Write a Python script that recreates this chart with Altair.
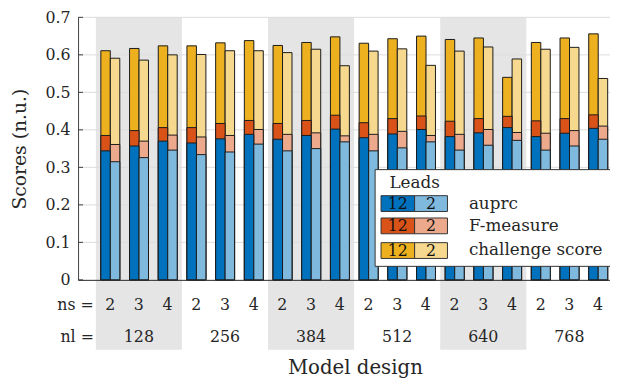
import altair as alt
import pandas as pd

# ---- data ----
nl_values = [128, 256, 384, 512, 640, 768]
ns_values = [2, 3, 4]
metrics = ["auprc", "F-measure", "challenge score"]
lead_labels = ["12", "2"]

auprc_12 = [0.344, 0.357, 0.370, 0.365, 0.376, 0.388, 0.375, 0.385, 0.402,
            0.379, 0.389, 0.401, 0.382, 0.392, 0.406, 0.382, 0.391, 0.404]
auprc_2 = [0.315, 0.326, 0.346, 0.334, 0.341, 0.362, 0.344, 0.350, 0.368,
           0.344, 0.352, 0.368, 0.346, 0.359, 0.372, 0.346, 0.357, 0.375]
fmeas_12 = [0.385, 0.398, 0.406, 0.406, 0.417, 0.425, 0.417, 0.425, 0.439,
            0.419, 0.430, 0.437, 0.423, 0.430, 0.436, 0.424, 0.430, 0.440]
fmeas_2 = [0.361, 0.370, 0.386, 0.381, 0.385, 0.401, 0.388, 0.392, 0.384,
           0.388, 0.396, 0.385, 0.388, 0.401, 0.393, 0.391, 0.398, 0.410]
chall_12 = [0.611, 0.617, 0.624, 0.624, 0.632, 0.638, 0.625, 0.633, 0.648,
            0.631, 0.643, 0.650, 0.641, 0.645, 0.540, 0.633, 0.645, 0.656]
chall_2 = [0.591, 0.586, 0.600, 0.601, 0.611, 0.611, 0.606, 0.615, 0.571,
           0.610, 0.616, 0.572, 0.610, 0.621, 0.589, 0.615, 0.620, 0.537]

y_ticks = [0, 0.1, 0.2, 0.3, 0.4, 0.5, 0.6, 0.7]

# ---- styling ----
FONT = "DejaVu Serif"
TXT = "#262626"
DARK = {"auprc": "#0072BD", "F-measure": "#D95319", "challenge score": "#EDB120"}
LIGHT = {"auprc": "#80B9DE", "F-measure": "#ECA98C", "challenge score": "#F6D88F"}
W, H = 539, 266
NUM = 16

# ---- tables built from the arrays ----
rows = []
for i in range(18):
    for lead, vals in (("12", (auprc_12, fmeas_12, chall_12)), ("2", (auprc_2, fmeas_2, chall_2))):
        off = 0.175 if lead == "12" else 0.505
        rows.append({"g": i, "leads": lead, "x0": i + off, "x1": i + off + 0.33,
                     "auprc": vals[0][i], "F-measure": vals[1][i],
                     "challenge score": vals[2][i], "zero": 0})
bars = pd.DataFrame(rows)

ns_df = pd.DataFrame({"xc": [i + 0.5 for i in range(18)],
                      "lab": [str(ns_values[i % 3]) for i in range(18)]})
nl_df = pd.DataFrame({"xc": [3 * k + 1.5 for k in range(6)],
                      "lab": [str(v) for v in nl_values]})
band_df = pd.DataFrame({"b0": [3 * k for k in (0, 2, 4)], "b1": [3 * k + 3 for k in (0, 2, 4)]})
tick_df = pd.DataFrame({"v": y_ticks})
grid_df = pd.DataFrame({"v": y_ticks[1:]})

xscale = alt.Scale(domain=[-0.619, 17.916], nice=False, zero=False)
yscale = alt.Scale(domain=[0, 0.7], nice=False)
X_AXIS = alt.Axis(labels=False, ticks=False, title=None, grid=False,
                  domainColor="#262626", domainWidth=1, zindex=1)
Y_AXIS = alt.Axis(values=y_ticks, grid=False, ticks=False,
                  domainColor="#404040", labelFont=FONT,
                  labelFontSize=NUM, labelColor=TXT,
                  labelPadding=8, labelOverlap=False,
                  labelExpr="datum.value == 0 ? '0' : format(datum.value, '.1f')",
                  title="Scores (n.u.)", titleFont=FONT,
                  titleFontSize=19, titleFontWeight="normal",
                  titleColor=TXT, titleX=-59, titleY=H / 2,
                  titleAngle=-90, titleAlign="center",
                  titleBaseline="middle", zindex=1)

bands = alt.Chart(band_df).mark_rect(color="#e5e5e5").encode(
    x=alt.X("b0:Q", scale=xscale, axis=X_AXIS),
    x2="b1:Q",
    y=alt.value(0), y2=alt.value(336.7))

grid = alt.Chart(grid_df).mark_rule(color="#dcdcdc", strokeWidth=1).encode(
    y=alt.Y("v:Q", scale=yscale, axis=Y_AXIS))

bar_layers = []
for m in ["challenge score", "F-measure", "auprc"]:
    bar_layers.append(
        alt.Chart(bars).mark_rect(stroke="#1a1a1a", strokeWidth=1).encode(
            x=alt.X("x0:Q", scale=xscale, axis=X_AXIS),
            x2="x1:Q",
            y=alt.Y(f"{m}:Q", scale=yscale, axis=Y_AXIS),
            y2="zero:Q",
            fill=alt.condition(alt.datum.leads == "12", alt.value(DARK[m]), alt.value(LIGHT[m]))))

ticks = alt.Chart(tick_df).mark_rule(color="#404040", strokeWidth=1).encode(
    x=alt.value(0), x2=alt.value(5), y=alt.Y("v:Q", scale=yscale, axis=Y_AXIS))

ns_text = alt.Chart(ns_df).mark_text(font=FONT, fontSize=NUM, color=TXT, baseline="middle").encode(
    x=alt.X("xc:Q", scale=xscale, axis=X_AXIS), y=alt.value(292), text="lab:N")
nl_text = alt.Chart(nl_df).mark_text(font=FONT, fontSize=NUM, color=TXT, baseline="middle").encode(
    x=alt.X("xc:Q", scale=xscale, axis=X_AXIS), y=alt.value(324), text="lab:N")

one = pd.DataFrame({"t": ["ns =", "nl =", "Model design"]})
ns_lab = alt.Chart(one).transform_filter(alt.datum.t == "ns =").mark_text(
    font=FONT, fontSize=NUM, color=TXT, align="right", baseline="middle").encode(
    x=alt.value(16), y=alt.value(292), text="t:N")
nl_lab = alt.Chart(one).transform_filter(alt.datum.t == "nl =").mark_text(
    font=FONT, fontSize=NUM, color=TXT, align="right", baseline="middle").encode(
    x=alt.value(16), y=alt.value(324), text="t:N")
xtitle = alt.Chart(one).transform_filter(alt.datum.t == "Model design").mark_text(
    font=FONT, fontSize=20, color=TXT, align="center", baseline="alphabetic").encode(
    x=alt.value(281), y=alt.value(361.5), text="t:N")

# ---- legend (drawn by hand, like the reference) ----
leg_df = pd.DataFrame({"metric": metrics, "row": [0, 1, 2]})
leg_box = alt.Chart(pd.DataFrame({"a": [0]})).mark_rect(
    fill="white", stroke="#333", strokeWidth=1).encode(
    x=alt.value(301), x2=alt.value(542), y=alt.value(154.3), y2=alt.value(252.3))
leg_title = alt.Chart(pd.DataFrame({"t": ["Leads"]})).mark_text(
    font=FONT, fontSize=17, color=TXT, baseline="middle").encode(
    x=alt.value(341), y=alt.value(167.7), text="t:N")
leg_layers = []
row_tops = [180.7, 203.3, 228.3]
for r, m in enumerate(metrics):
    d = leg_df[leg_df.row == r]
    top = row_tops[r]
    leg_layers.append(alt.Chart(d).mark_rect(fill=DARK[m], stroke="#333", strokeWidth=1).encode(
        x=alt.value(307), x2=alt.value(341), y=alt.value(top), y2=alt.value(top + 16)))
    leg_layers.append(alt.Chart(d).mark_rect(fill=LIGHT[m], stroke="#333", strokeWidth=1).encode(
        x=alt.value(341), x2=alt.value(374.3), y=alt.value(top), y2=alt.value(top + 16)))
    leg_layers.append(alt.Chart(d).mark_text(font=FONT, fontSize=NUM, color="#111", baseline="middle").encode(
        x=alt.value(324), y=alt.value(top + 8.5), text=alt.value("12")))
    leg_layers.append(alt.Chart(d).mark_text(font=FONT, fontSize=NUM, color="#111", baseline="middle").encode(
        x=alt.value(357.6), y=alt.value(top + 8.5), text=alt.value("2")))
    leg_layers.append(alt.Chart(d).mark_text(font=FONT, fontSize=17, color=TXT, align="left", baseline="middle").encode(
        x=alt.value(396), y=alt.value(top + 8), text="metric:N"))

chart = alt.layer(bands, grid, *bar_layers, ticks, ns_text, nl_text, ns_lab, nl_lab, xtitle,
                  leg_box, leg_title, *leg_layers).properties(
    width=W, height=H,
    padding={"left": 71, "top": 7, "right": 0, "bottom": 100},
    autosize=alt.AutoSizeParams(type="none"),
    background="white",
).configure_view(stroke=None)

chart.save("out.html", embed_options={"renderer": "svg", "actions": False})
